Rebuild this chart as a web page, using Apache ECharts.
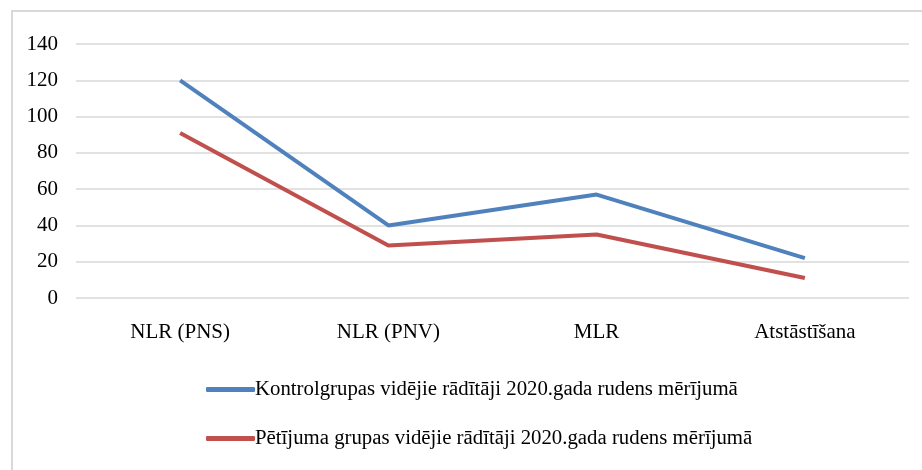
<!DOCTYPE html>
<html>
<head>
<meta charset="utf-8">
<script src="https://cdn.jsdelivr.net/npm/echarts@6/dist/echarts.min.js"></script>
<style>
  html, body { margin: 0; padding: 0; background: #fff; }
  #chart { width: 922px; height: 470px; }
</style>
</head>
<body>
<div id="chart"></div>
<script>
// kategorijas un vērtības
const categories = ['NLR (PNS)', 'NLR (PNV)', 'MLR', 'Atstāstīšana'];
const seriesNames = [
    'Kontrolgrupas vidējie rādītāji 2020.gada rudens mērījumā',
    'Pētījuma grupas vidējie rādītāji 2020.gada rudens mērījumā'
];
const kontrolValues = [120, 40, 57, 22];
const petijumaValues = [91, 29, 35, 11];
const yTicks = { min: 0, max: 140, interval: 20 };

const fontFamily = '"Liberation Serif", "DejaVu Serif", serif';

const chart = echarts.init(document.getElementById('chart'));

const option = {
    animation: false,
    textStyle: { fontFamily: fontFamily },
    graphic: [
        {
            // rāmis ap diagrammu
            type: 'rect',
            shape: { x: 12, y: 11, width: 1000, height: 1000 },
            style: { fill: 'none', stroke: '#d9d9d9', lineWidth: 2 },
            silent: true
        }
    ],
    grid: {
        left: 76,
        right: 13,
        top: 44,
        bottom: 172
    },
    legend: {
        orient: 'vertical',
        left: 201,
        top: 374,
        itemWidth: 49,
        itemHeight: 5,
        itemGap: 28,
        icon: 'roundRect',
        textStyle: { fontSize: 20.8, color: '#000', fontFamily: fontFamily, padding: [0, 0, 0, -5] },
        data: seriesNames
    },
    xAxis: {
        type: 'category',
        data: categories,
        boundaryGap: true,
        axisLine: { show: false },
        axisTick: { show: false },
        axisLabel: { color: '#000', fontSize: 21, margin: 24, fontFamily: fontFamily }
    },
    yAxis: {
        type: 'value',
        min: yTicks.min,
        max: yTicks.max,
        interval: yTicks.interval,
        axisLine: { show: false },
        axisTick: { show: false },
        axisLabel: { color: '#000', fontSize: 21, margin: 18, fontFamily: fontFamily },
        splitLine: { lineStyle: { color: '#d9d9d9', width: 1.5 } }
    },
    series: [
        {
            name: seriesNames[0],
            type: 'line',
            data: kontrolValues,
            symbol: 'none',
            lineStyle: { color: '#4f81bd', width: 4 },
            itemStyle: { color: '#4f81bd' }
        },
        {
            name: seriesNames[1],
            type: 'line',
            data: petijumaValues,
            symbol: 'none',
            lineStyle: { color: '#c0504d', width: 4 },
            itemStyle: { color: '#c0504d' }
        }
    ]
};

chart.setOption(option);
</script>
</body>
</html>
